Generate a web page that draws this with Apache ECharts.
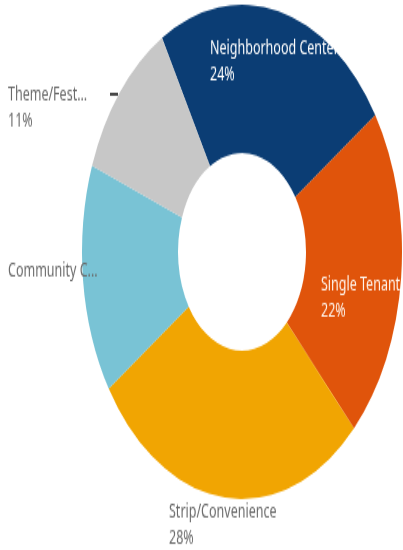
<!DOCTYPE html>
<html>
<head>
<meta charset="utf-8">
<script src="https://cdn.jsdelivr.net/npm/echarts@6/dist/echarts.min.js"></script>
<style>
  html, body { margin: 0; padding: 0; background: #fff; overflow: hidden; }
  #wrap { width: 403px; height: 550px; overflow: hidden; }
  /* the chart is drawn on a short canvas and stretched to full height */
  #chart { width: 403px; height: 356px; transform-origin: 0 0; transform: scaleY(1.545); }
</style>
</head>
<body>
<div id="wrap"><div id="chart"></div></div>
<script>
// Share of centers by type (percent)
const categories = ['Neighborhood Center', 'Single Tenant', 'Strip/Convenience', 'Community C...', 'Theme/Fest...'];
const shares = [24, 22, 28, 15, 11];
const sliceColors = ['#0b3d74', '#e0540b', '#f1a502', '#79c3d5', '#c7c7c7'];
const showPercent = [true, true, true, false, true];
const labelColors = ['#ffffff', '#fff3ea', '#6a6a6a', '#6a6a6a', '#6a6a6a'];

// label anchor points (left / vertical middle) in canvas pixels
const labelSpots = [[210, 40], [321, 193], [169, 340], [8, 175], [8, 70]];

const chart = echarts.init(document.getElementById('chart'), null, { renderer: 'canvas' });

chart.setOption({
  animation: false,
  textStyle: { fontFamily: 'Noto Sans' },
  series: [{
    type: 'pie',
    center: [242, 163],
    radius: [64, 160],
    startAngle: 120,
    clockwise: true,
    label: {
      show: true,
      position: 'inside',
      fontSize: 12.5,
      lineHeight: 17,
      fontFamily: 'Noto Sans'
    },
    labelLine: { show: false },
    labelLayout: function (p) {
      const s = labelSpots[p.dataIndex];
      return { x: s[0], y: s[1], align: 'left', verticalAlign: 'middle' };
    },
    emphasis: { disabled: true },
    data: categories.map((name, i) => ({
      name: name,
      value: shares[i],
      itemStyle: { color: sliceColors[i] },
      label: {
        color: labelColors[i],
        formatter: showPercent[i] ? '{b}\n{c}%' : '{b}'
      }
    }))
  }],
  graphic: [{
    type: 'line',
    shape: { x1: 110, y1: 61, x2: 118, y2: 61 },
    style: { stroke: '#1a1a1a', lineWidth: 1.6 }
  }]
});
</script>
</body>
</html>
